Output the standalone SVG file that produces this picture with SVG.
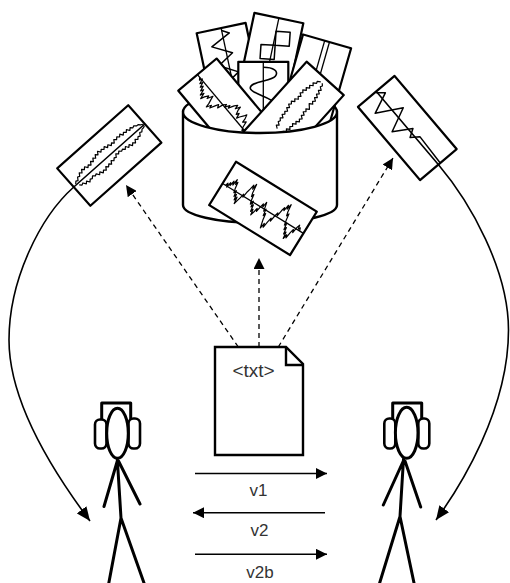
<svg xmlns="http://www.w3.org/2000/svg" width="510" height="583" viewBox="0 0 510 583">
  <defs>
    <style>
      .card { fill:#fff; stroke:#000; stroke-width:2.2; stroke-linejoin:round; }
      .wave { fill:none; stroke:#000; stroke-width:1.2; stroke-linejoin:round; }
      .axis { fill:none; stroke:#000; stroke-width:1.3; }
      .tub { fill:#fff; stroke:#000; stroke-width:2.4; stroke-linejoin:round; }
      .fig { fill:none; stroke:#000; stroke-width:3; stroke-linecap:round; stroke-linejoin:round; }
      .cup { fill:#fff; stroke:#000; stroke-width:2.6; }
      .conn { fill:none; stroke:#000; stroke-width:1.6; }
      .dash { fill:none; stroke:#000; stroke-width:1.3; stroke-dasharray:5 4; }
      .flow { fill:none; stroke:#000; stroke-width:1.4; }
      .doc { fill:#fff; stroke:#000; stroke-width:2.4; stroke-linejoin:miter; }
      .label { font-family:"Liberation Sans", Arial, sans-serif; font-size:17px; fill:#333; text-anchor:middle; }
    </style>
    <marker id="tip" viewBox="0 0 11 11" refX="11" refY="5.5" markerWidth="11" markerHeight="11" markerUnits="userSpaceOnUse" orient="auto">
      <path d="M0,0 L11,5.5 L0,11 Z" fill="#000"/>
    </marker>
    <marker id="tipBig" viewBox="0 0 14 12" refX="14" refY="6" markerWidth="14" markerHeight="12" markerUnits="userSpaceOnUse" orient="auto">
      <path d="M0,0 L14,6 L0,12 Z" fill="#000"/>
    </marker>
  </defs>

  <!-- tub full of sound cards -->
  <g id="sound-tub">
    <!-- back rim -->
    <path class="tub" d="M183,112 A77,21 0 0 1 337,112"/>

    <g id="card-zigzag" transform="translate(231,74.5) rotate(-12)">
      <rect class="card" x="-25" y="-47.5" width="50" height="95"/>
      <line class="axis" x1="0" y1="-47.5" x2="0" y2="47.5"/>
      <polyline class="wave" style="stroke-width:1.5" points="0,-45 7,-41 -13,-31 6,-21 -10,-11 8,-1 -8,9 6,19"/>
    </g>
    <g id="card-check" transform="translate(269,64.5) rotate(12)">
      <rect class="card" x="-25" y="-47.5" width="50" height="95"/>
      <line class="axis" x1="0" y1="-47.5" x2="0" y2="47.5"/>
      <polygon class="wave" style="stroke-width:1.5" points="0,-34 14,-36 16,-22 2,-20"/>
      <polygon class="wave" style="stroke-width:1.5" points="-12,-18 2,-20 4,-6 -10,-4"/>
    </g>
    <g id="card-lines" transform="translate(314,87) rotate(16)">
      <rect class="card" x="-25" y="-47.5" width="50" height="95"/>
      <line class="axis" x1="-2.5" y1="-47.5" x2="-2.5" y2="47.5"/>
      <line class="axis" x1="2.5" y1="-47.5" x2="2.5" y2="47.5"/>
    </g>
    <g id="card-s" transform="translate(263.3,109.3)">
      <rect class="card" x="-25" y="-47.5" width="50" height="95"/>
      <line class="axis" x1="0" y1="-47.5" x2="0" y2="47.5"/>
      <path class="wave" style="stroke-width:1.6" d="M0,-42 C10,-42 16,-38 12,-33 C8,-28 -14,-28 -13,-21 C-12,-15 10,-12 12,-5 C14,2 5,6 5,12 C5,18 8,20 8,26"/>
    </g>
    <g id="card-noise-a" transform="translate(228,111) rotate(-40)">
      <rect class="card" x="-25" y="-47.5" width="50" height="95"/>
      <line class="axis" x1="0" y1="-47.5" x2="0" y2="47.5"/>
      <polyline class="wave" points="0,-44 -2,-42 1,-41 -4,-39 -1,-38 -6,-36 -3,-35 -8,-33 -5,-32 -11,-30 -7,-29 -13,-27 -9,-26 -5,-24 -8,-23 -2,-21 -5,-20 -10,-18 -14,-17 -9,-15 -12,-14 -6,-12 -3,-11 -6,-9 0,-8 3,-6 0,-5 5,-3 2,-2 8,0 11,2 7,3 12,5 8,6 4,8 7,9 2,11 5,12 9,14 12,15 8,17 4,18 7,20 1,22 -2,24 2,26 0,28"/>
    </g>
    <g id="card-noise-b" transform="translate(293.4,113.7) rotate(42)">
      <rect class="card" x="-25" y="-47.5" width="50" height="95"/>
      <polyline class="wave" points="-1,-42 -4,-40 -3,-38 -6,-36 -4,-34 -7,-32 -5,-30 -8,-28 -6,-26 -9,-24 -7,-22 -9,-20 -6,-18 -8,-16 -6,-14 -9,-12 -7,-10 -10,-8 -8,-6 -10,-4 -7,-2 -9,0 -6,2 -8,4 -6,6 -8,8 -5,10 -7,12 -5,14 -6,16 -3,18 -5,20 -2,22"/>
      <polyline class="wave" points="1,-42 3,-40 2,-38 5,-36 3,-34 6,-32 4,-30 7,-28 5,-26 8,-24 6,-22 8,-20 5,-18 7,-16 9,-14 6,-12 8,-10 6,-8 9,-6 7,-4 10,-2 8,0 10,2 7,4 9,6 6,8 8,10 6,12 8,14 5,16 7,18 4,20 6,22 3,24"/>
    </g>

    <!-- front wall of the tub -->
    <path class="tub" d="M183,112 A77,21 0 0 0 337,112 L337,205 A77,18 0 0 1 183,205 Z"/>

    <g id="card-front" transform="translate(263,208.4) rotate(31.7)">
      <rect class="card" x="-47.5" y="-25.5" width="95" height="51"/>
      <line class="axis" x1="-47.5" y1="0" x2="47.5" y2="0"/>
      <polyline class="wave" points="-44,0 -43,-3 -42,1 -41,-5 -40,-2 -39,-8 -38,-4 -37,-11 -36,-6 -35,-9 -34,-2 -33,2 -32,-1 -31,5 -30,2 -29,8 -28,4 -27,11 -26,7 -25,3 -24,-2 -23,1 -22,-6 -21,-10 -20,-15 -19,-11 -18,-17 -17,-8 -16,-4 -15,-7 -14,0 -13,3 -12,-1 -11,5 -10,2 -9,9 -8,6 -7,12 -6,8 -5,3 -4,6 -3,0 -2,-4 -1,-1 0,-7 1,-3 2,2 3,-1 4,6 5,3 6,10 7,14 8,18 9,12 10,16 11,9 12,4 13,7 14,0 15,-4 16,-1 17,-8 18,-12 19,-9 20,-16 21,-12 22,-18 23,-10 24,-6 25,-9 26,-2 27,3 28,0 29,7 30,4 31,11 32,8 33,15 34,10 35,13 36,6 37,2 38,5 39,-2 40,-5 41,-1 42,-3 43,0"/>
    </g>
  </g>

  <!-- card sent to the left listener -->
  <g id="card-left" transform="translate(109.3,155.5) rotate(-41.6)">
    <rect class="card" x="-47.5" y="-25" width="95" height="50"/>
    <polyline class="wave" points="-44,-1 -42,-3 -40,-2 -38,-5 -36,-4 -34,-7 -32,-5 -30,-8 -28,-6 -26,-8 -24,-5 -22,-7 -20,-5 -18,-8 -16,-6 -14,-9 -12,-7 -10,-10 -8,-8 -6,-11 -4,-8 -2,-10 0,-8 2,-10 4,-7 6,-9 8,-6 10,-8 12,-6 14,-9 16,-7 18,-9 20,-7 22,-9 24,-6 26,-8 28,-6 30,-8 32,-5 34,-7 36,-5 38,-6 40,-4 42,-4 44,-2 46,-1"/>
    <polyline class="wave" points="-42,2 -40,4 -38,3 -36,6 -34,4 -32,7 -30,5 -28,6 -26,4 -24,6 -22,5 -20,8 -18,6 -16,9 -14,7 -12,9 -10,6 -8,8 -6,6 -4,8 -2,5 0,7 2,5 4,6 6,3 8,5 10,3 12,5 14,4 16,6 18,4 20,7 22,5 24,8 26,6 28,8 30,5 32,7 34,5 36,6 38,3 40,4 42,2 44,2 46,1"/>
  </g>

  <!-- card sent to the right listener -->
  <g id="card-right" transform="translate(407.3,128) rotate(49.7)">
    <rect class="card" x="-48" y="-24" width="96" height="48"/>
    <polyline class="wave" style="stroke-width:1.5" points="-47,1 -41,-6 -32,15 -18,-10 -7,14 4,-4 9,4 15,-4 48,-2.5"/>
  </g>

  <!-- text document -->
  <g id="document">
    <path class="doc" d="M215,347 H286 L303,364 V455 H215 Z"/>
    <path class="doc" style="fill:none" d="M286,347 V365 H303"/>
    <text class="label" x="253.5" y="377" style="font-size:19px">&lt;txt&gt;</text>
  </g>

  <!-- listener on the left -->
  <g id="listener-left">
    <path class="fig" d="M101.7,420 V403 H130.7 V419"/>
    <rect class="cup" x="95" y="419.5" width="11.5" height="29" rx="5"/>
    <rect class="cup" x="128.5" y="418.5" width="11.5" height="30" rx="5"/>
    <ellipse class="fig" cx="117.5" cy="433.3" rx="10.8" ry="25" style="fill:#fff"/>
    <path class="fig" d="M117.3,459 L121,518 M117.3,461 L104,506.5 M118.5,461 L140,504 M121,518 L107.5,590 M121,518 L146.5,590"/>
  </g>

  <!-- listener on the right -->
  <g id="listener-right">
    <path class="fig" d="M392.7,419.5 V403 H421.7 V419.5"/>
    <rect class="cup" x="384.3" y="418.5" width="11" height="30" rx="5"/>
    <rect class="cup" x="418.3" y="418.5" width="11" height="30" rx="5"/>
    <ellipse class="fig" cx="406.7" cy="432.8" rx="11.3" ry="25.5" style="fill:#fff"/>
    <path class="fig" d="M403.5,459 L400,516.5 M403.3,461 L383.3,505 M405,461 L420.7,507 M400,516.5 L377.5,590 M400,516.5 L415.5,590"/>
  </g>

  <!-- connectors -->
  <g id="connectors">
    <path class="conn" marker-end="url(#tipBig)" d="M144.8,124 L73.8,187 C40,217 9,280 9,340 C9,410 66,489 90,521"/>
    <path class="conn" marker-end="url(#tipBig)" d="M376.3,91.4 L438.3,164.6 C470.6,202.8 508.5,270 508.5,330 C508.5,410 460,487 436,520"/>
    <path class="dash" marker-end="url(#tip)" d="M238.3,347 L126,185"/>
    <path class="dash" marker-end="url(#tip)" d="M259,347 L259,258"/>
    <path class="dash" marker-end="url(#tip)" d="M278.3,347 L393,158"/>
    <path class="flow" marker-end="url(#tip)" d="M195,473.5 H327"/>
    <path class="flow" marker-end="url(#tip)" d="M325,512.7 H193"/>
    <path class="flow" marker-end="url(#tip)" d="M195,554.3 H327"/>
  </g>

  <g id="labels">
    <text class="label" x="258.5" y="496">v1</text>
    <text class="label" x="259.5" y="536">v2</text>
    <text class="label" x="260" y="578">v2b</text>
  </g>
</svg>
